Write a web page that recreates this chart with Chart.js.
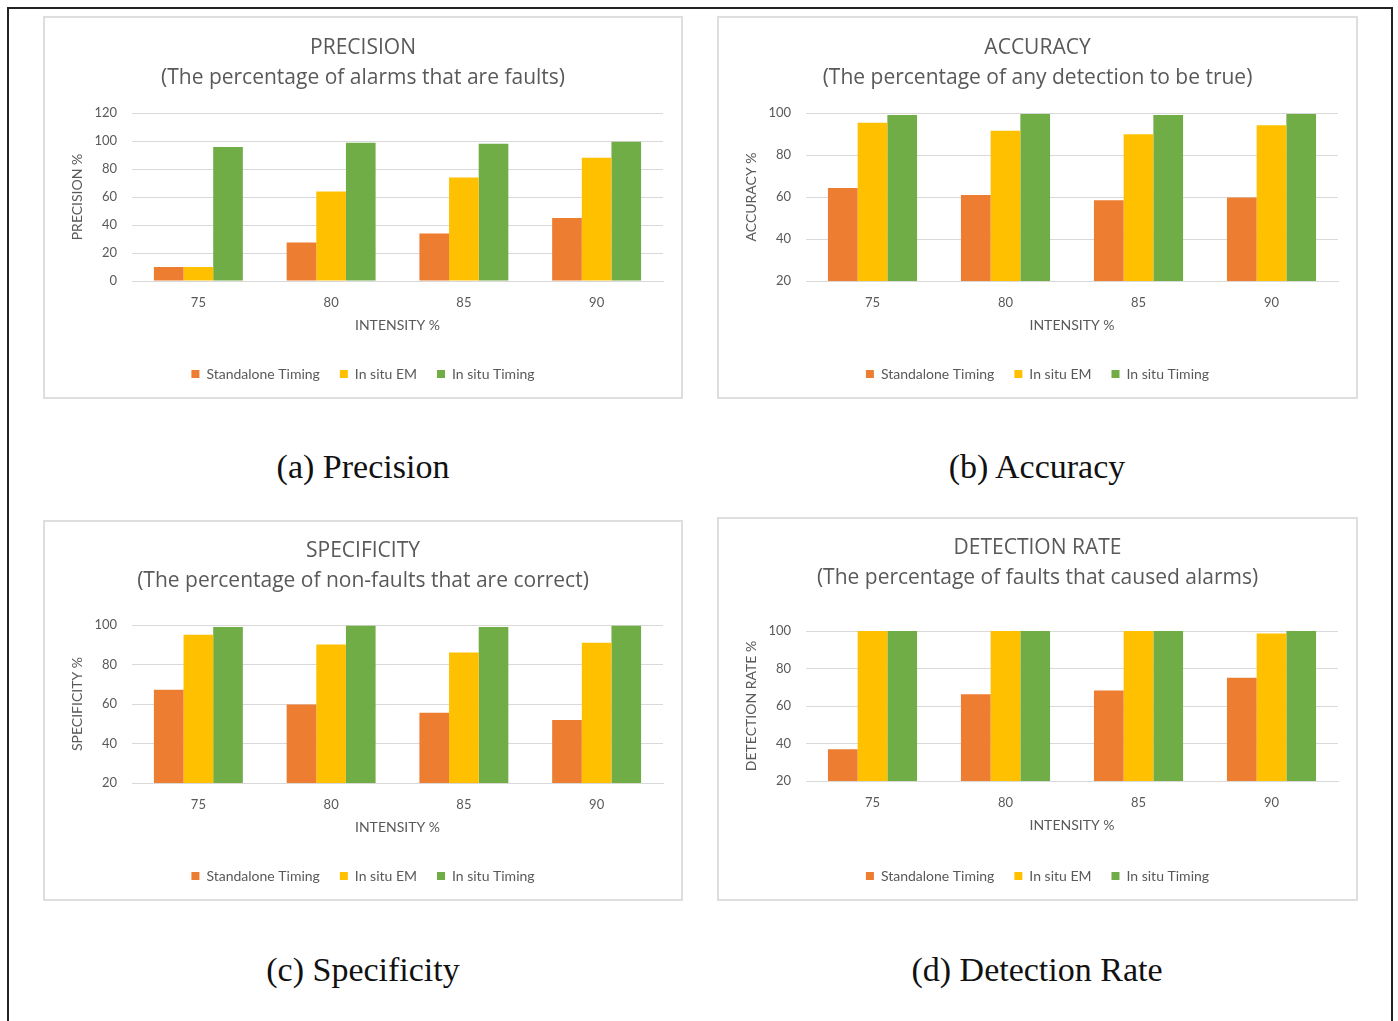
<!DOCTYPE html>
<html>
<head>
<meta charset="utf-8">
<script src="https://cdn.jsdelivr.net/npm/chart.js@4.4.0/dist/chart.umd.min.js"></script>
<style>
  body { margin: 0; background: #fff; width: 1398px; height: 1021px; overflow: hidden; position: relative; }
  .frame { position: absolute; left: 7px; top: 7px; width: 1386px; height: 1100px; border: 2px solid #222; border-bottom: none; box-sizing: border-box; }
  .box { position: absolute; border: 2px solid #dedede; box-sizing: border-box; background: #fff; }
  .cap { position: absolute; width: 640px; text-align: center; font-family: "Liberation Serif", serif; font-size: 34px; line-height: 40px; color: #111; }
</style>
</head>
<body>
<div class="frame"></div>

<div class="box" style="left:43px;top:16px;width:640px;height:383px"><canvas id="c1"></canvas></div>
<div class="box" style="left:717px;top:16px;width:641px;height:383px"><canvas id="c2"></canvas></div>
<div class="box" style="left:43px;top:520px;width:640px;height:381px"><canvas id="c3"></canvas></div>
<div class="box" style="left:717px;top:517px;width:641px;height:384px"><canvas id="c4"></canvas></div>

<div class="cap" style="left:43px;top:447px">(a) Precision</div>
<div class="cap" style="left:717px;top:447px">(b) Accuracy</div>
<div class="cap" style="left:43px;top:950px">(c) Specificity</div>
<div class="cap" style="left:717px;top:950px">(d) Detection Rate</div>

<script>
var intensity = ["75", "80", "85", "90"];
var seriesNames = ["Standalone Timing", "In situ EM", "In situ Timing"];
var seriesColors = ["#ED7D31", "#FFC000", "#70AD47"];

var precisionStandalone = [10, 27.5, 34, 45];
var precisionEM = [10, 64, 74, 88];
var precisionTiming = [95.7, 98.8, 98, 99.5];

var accuracyStandalone = [64.3, 61, 58.5, 59.8];
var accuracyEM = [95.4, 91.6, 89.9, 94.2];
var accuracyTiming = [99.1, 99.6, 99.1, 99.6];

var specificityStandalone = [67.2, 59.7, 55.6, 51.9];
var specificityEM = [95.1, 90.2, 86.1, 91];
var specificityTiming = [99, 99.7, 99, 99.7];

var detectionStandalone = [37, 66.3, 68.3, 75.1];
var detectionEM = [100, 100, 100, 98.7];
var detectionTiming = [100, 100, 100, 100];

var FONT = "Lato";
var TITLE_FONT = "Open Sans";
var GREY = "#595959";

function makeChart(id, title, subtitle, yLabel, yMin, yMax, values, titlePad, xTitleBottom) {
  var datasets = values.map(function (v, i) {
    return {
      label: seriesNames[i],
      data: v,
      backgroundColor: seriesColors[i],
      borderWidth: 0,
      categoryPercentage: 0.67,
      barPercentage: 1.0
    };
  });
  return new Chart(document.getElementById(id), {
    type: "bar",
    data: { labels: intensity, datasets: datasets },
    options: {
      responsive: true,
      maintainAspectRatio: false,
      animation: false,
      // symmetric side padding keeps the title and legend centred in the box
      layout: { padding: { left: 18, right: 18, top: 0, bottom: 6 } },
      plugins: {
        title: {
          display: true,
          text: [title, subtitle],
          color: GREY,
          font: { family: TITLE_FONT, size: 21, weight: "normal", lineHeight: 1.43 },
          padding: titlePad
        },
        legend: {
          position: "bottom",
          labels: {
            color: GREY,
            font: { family: FONT, size: 14 },
            boxWidth: 8,
            boxHeight: 8,
            padding: 20
          }
        },
        tooltip: { enabled: false }
      },
      scales: {
        x: {
          grid: { display: false },
          border: { display: true, color: "#d9d9d9", width: 1 },
          ticks: { color: GREY, font: { family: FONT, size: 13, lineHeight: 1 }, padding: 7 },
          title: {
            display: true,
            text: "INTENSITY %",
            color: GREY,
            font: { family: FONT, size: 14, lineHeight: 1 },
            padding: { top: 2, bottom: xTitleBottom }
          }
        },
        y: {
          min: yMin,
          max: yMax,
          afterFit: function (scale) { scale.width = 69; },
          grid: { color: "#d9d9d9", drawTicks: false },
          border: { display: false },
          ticks: { stepSize: 20, color: GREY, font: { family: FONT, size: 13 }, padding: 15 },
          title: {
            display: true,
            text: yLabel,
            color: GREY,
            font: { family: FONT, size: 14 },
            padding: { top: 6, bottom: 0 }
          }
        }
      }
    }
  });
}

makeChart("c1", "PRECISION", "(The percentage of alarms that are faults)", "PRECISION %", 0, 120,
  [precisionStandalone, precisionEM, precisionTiming], { top: 15, bottom: 20 }, 15);
makeChart("c2", "ACCURACY", "(The percentage of any detection to be true)", "ACCURACY %", 20, 100,
  [accuracyStandalone, accuracyEM, accuracyTiming], { top: 15, bottom: 20 }, 15);
makeChart("c3", "SPECIFICITY", "(The percentage of non-faults that are correct)", "SPECIFICITY %", 20, 100,
  [specificityStandalone, specificityEM, specificityTiming], { top: 14, bottom: 29 }, 15);
makeChart("c4", "DETECTION RATE", "(The percentage of faults that caused alarms)", "DETECTION RATE %", 20, 100,
  [detectionStandalone, detectionEM, detectionTiming], { top: 14, bottom: 38 }, 17);
</script>
</body>
</html>
